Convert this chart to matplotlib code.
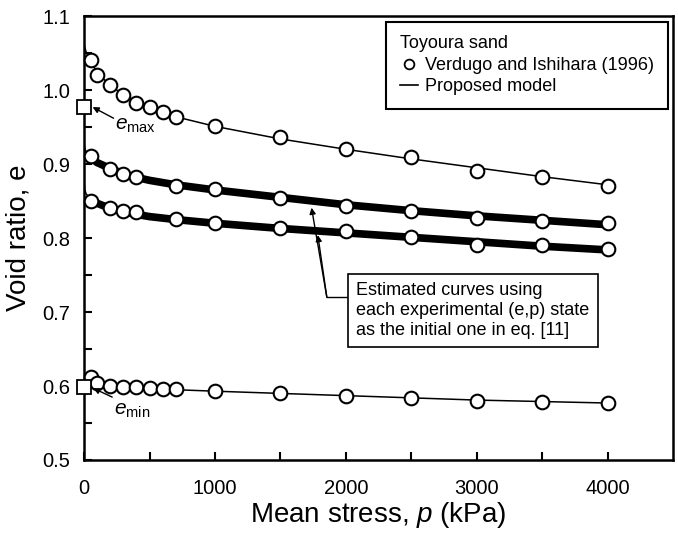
import numpy as np
import matplotlib
matplotlib.use("Agg")
import matplotlib.pyplot as plt
from matplotlib.lines import Line2D

plt.rcParams['font.family'] = ['Liberation Sans', 'DejaVu Sans']
plt.rcParams['mathtext.fontset'] = 'custom'
plt.rcParams['mathtext.rm'] = 'Liberation Sans'
plt.rcParams['mathtext.it'] = 'Liberation Sans:italic'

# experimental points (Verdugo and Ishihara 1996)
p_loose = [50, 100, 200, 300, 400, 500, 600, 700, 1000, 1500, 2000, 2500, 3000, 3500, 4000]
e_loose = [1.040, 1.020, 1.007, 0.994, 0.983, 0.977, 0.971, 0.963, 0.951, 0.937, 0.921, 0.909, 0.891, 0.882, 0.871]
p_mid = [50, 200, 300, 400, 700, 1000, 1500, 2000, 2500, 3000, 3500, 4000]
e_mid = [0.911, 0.893, 0.886, 0.882, 0.871, 0.866, 0.854, 0.844, 0.836, 0.827, 0.823, 0.820]
p_dense = [50, 200, 300, 400, 700, 1000, 1500, 2000, 2500, 3000, 3500, 4000]
e_dense = [0.850, 0.841, 0.836, 0.835, 0.826, 0.821, 0.813, 0.809, 0.802, 0.791, 0.790, 0.785]
p_min = [50, 100, 200, 300, 400, 500, 600, 700, 1000, 1500, 2000, 2500, 3000, 3500, 4000]
e_min_pts = [0.612, 0.604, 0.600, 0.599, 0.598, 0.597, 0.596, 0.596, 0.593, 0.590, 0.586, 0.584, 0.580, 0.578, 0.577]

# e_max / e_min squares
e_max, e_min = 0.977, 0.598

# proposed model curves
pc = [0, 5, 15, 50, 100, 200, 300, 400, 500, 700, 1000, 1500, 2000, 2500, 3000, 3500, 4000]
mc_loose = [1.062, 1.058, 1.052, 1.039, 1.024, 1.006, 0.994, 0.984, 0.976, 0.964, 0.951, 0.934, 0.920, 0.907, 0.895, 0.883, 0.872]
mc_mid = [0.930, 0.922, 0.916, 0.909, 0.902, 0.894, 0.887, 0.882, 0.878, 0.872, 0.865, 0.855, 0.845, 0.837, 0.830, 0.824, 0.818]
mc_dense = [0.878, 0.866, 0.860, 0.852, 0.847, 0.840, 0.836, 0.832, 0.829, 0.825, 0.820, 0.813, 0.807, 0.801, 0.795, 0.789, 0.784]
mc_min = [0.606, 0.605, 0.604, 0.603, 0.601, 0.599, 0.598, 0.597, 0.596, 0.595, 0.593, 0.590, 0.587, 0.584, 0.581, 0.579, 0.577]

fig = plt.figure(figsize=(6.78, 5.37), dpi=100)
ax = fig.add_axes([0.124, 0.1434, 0.8686, 0.8266])

ax.plot(pc, mc_loose, color='black', lw=1.1, zorder=2)
ax.plot(pc, mc_min, color='black', lw=1.1, zorder=2)
ax.plot(pc, mc_mid, color='black', lw=1.1, zorder=2)
ax.plot(pc, mc_dense, color='black', lw=1.1, zorder=2)
ax.plot(pc[3:], mc_mid[3:], color='black', lw=5.5, solid_capstyle='butt', zorder=2)
ax.plot(pc[3:], mc_dense[3:], color='black', lw=5.5, solid_capstyle='butt', zorder=2)

mk = dict(ls='none', marker='o', ms=9.8, mfc='white', mec='black', mew=1.5, zorder=3, clip_on=False)
ax.plot(p_loose, e_loose, **mk)
ax.plot(p_mid, e_mid, **mk)
ax.plot(p_dense, e_dense, **mk)
ax.plot(p_min, e_min_pts, **mk)

sq = dict(ls='none', marker='s', ms=10, mfc='white', mec='black', mew=1.3, zorder=4, clip_on=False)
ax.plot([0], [e_max], **sq)
ax.plot([0], [e_min], **sq)

arr = dict(arrowstyle='-|>', color='black', lw=1.0, mutation_scale=9, shrinkA=0, shrinkB=0)
ax.annotate('', xy=(65, 0.977), xytext=(225, 0.962), arrowprops=arr)
ax.text(235, 0.952, r'$e_{\mathrm{max}}$', fontsize=15, va='center', ha='left')
ax.annotate('', xy=(70, 0.597), xytext=(215, 0.585), arrowprops=arr)
ax.text(228, 0.567, r'$e_{\mathrm{min}}$', fontsize=15, va='center', ha='left')

# leader from annotation box
ax.plot([2015, 1855], [0.720, 0.720], color='black', lw=1.0)
ax.annotate('', xy=(1738, 0.841), xytext=(1855, 0.720), arrowprops=arr)
ax.annotate('', xy=(1786, 0.804), xytext=(1855, 0.720), arrowprops=arr)
ax.text(2080, 0.7405, 'Estimated curves using\neach experimental (e,p) state\nas the initial one in eq. [11]',
        fontsize=13, va='top', ha='left', linespacing=1.22,
        bbox=dict(boxstyle='square,pad=0.45', fc='white', ec='black', lw=1.2))

ax.set_xlim(0, 4500)
ax.set_ylim(0.5, 1.1)
ax.set_xticks([0, 1000, 2000, 3000, 4000])
ax.set_xticks([500, 1500, 2500, 3500], minor=True)
ax.set_yticks([0.5, 0.6, 0.7, 0.8, 0.9, 1.0, 1.1])
ax.set_yticks([0.55, 0.65, 0.75, 0.85, 0.95, 1.05], minor=True)
ax.set_yticklabels(['0.5', '0.6', '0.7', '0.8', '0.9', '1.0', '1.1'])
ax.tick_params(which='both', direction='in', length=6, width=1.5, labelsize=14.5, pad=10)
ax.tick_params(axis='x', pad=14)
for s in ax.spines.values():
    s.set_linewidth(1.8)

ax.set_xlabel(r'Mean stress, $p$ (kPa)', fontsize=20, labelpad=1)
ax.set_ylabel('Void ratio, e', fontsize=20, labelpad=8)

h1 = Line2D([], [], ls='none', marker='o', ms=7, mfc='white', mec='black', mew=1.3)
h2 = Line2D([], [], color='black', lw=1.2)
leg = ax.legend([h1, h2], ['Verdugo and Ishihara (1996)', 'Proposed model'],
                title='Toyoura sand', title_fontsize=13, fontsize=13,
                loc='upper right', bbox_to_anchor=(0.991, 0.987), alignment='left',
                frameon=True, fancybox=False, edgecolor='black', framealpha=1,
                handlelength=1.0, handletextpad=0.4, borderpad=0.75, labelspacing=0.25,
                borderaxespad=0)
leg.get_frame().set_linewidth(1.5)

fig.savefig('out.png', dpi=100)
